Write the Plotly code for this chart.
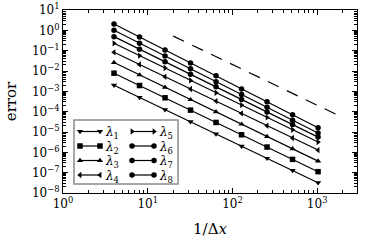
import plotly.graph_objects as go

x_vals = [4, 8, 16, 32, 64, 128, 256, 512, 1024]

series_names = ["λ<sub>1</sub>", "λ<sub>2</sub>", "λ<sub>3</sub>", "λ<sub>4</sub>",
                "λ<sub>5</sub>", "λ<sub>6</sub>", "λ<sub>7</sub>", "λ<sub>8</sub>"]

lam1 = [2.0e-3, 5.0e-4, 1.26e-4, 3.2e-5, 8.0e-6, 2.0e-6, 5.1e-7, 1.29e-7, 3.2e-8]
lam2 = [7.8e-3, 1.93e-3, 4.8e-4, 1.19e-4, 2.95e-5, 7.3e-6, 1.82e-6, 4.5e-7, 1.12e-7]
lam3 = [2.6e-2, 6.4e-3, 1.58e-3, 3.9e-4, 9.8e-5, 2.43e-5, 6.0e-6, 1.5e-6, 3.7e-7]
lam4 = [8.3e-2, 2.09e-2, 5.2e-3, 1.31e-3, 3.3e-4, 8.2e-5, 2.04e-5, 5.1e-6, 1.29e-6]
lam5 = [0.23, 5.7e-2, 1.4e-2, 3.45e-3, 8.5e-4, 2.1e-4, 5.2e-5, 1.29e-5, 3.2e-6]
lam6 = [0.49, 0.118, 2.85e-2, 6.9e-3, 1.66e-3, 4.0e-4, 9.7e-5, 2.33e-5, 5.6e-6]
lam7 = [1.0, 0.234, 5.5e-2, 1.28e-2, 3.0e-3, 6.9e-4, 1.63e-4, 3.8e-5, 8.9e-6]
lam8 = [2.04, 0.47, 0.108, 2.5e-2, 5.8e-3, 1.32e-3, 3.05e-4, 7.1e-5, 1.62e-5]

ref_x = [20, 1800]
ref_y = [0.52, 6.4e-5]

y_tick_vals = [1e-8, 1e-7, 1e-6, 1e-5, 1e-4, 1e-3, 1e-2, 1e-1, 1e0, 1e1]
y_tick_text = ["10<sup>−8</sup>", "10<sup>−7</sup>", "10<sup>−6</sup>", "10<sup>−5</sup>",
               "10<sup>−4</sup>", "10<sup>−3</sup>", "10<sup>−2</sup>", "10<sup>−1</sup>",
               "10<sup>0</sup>", "10<sup>1</sup>"]
x_tick_vals = [1, 10, 100, 1000]
x_tick_text = ["10<sup>0</sup>", "10<sup>1</sup>", "10<sup>2</sup>", "10<sup>3</sup>"]

all_series = [lam1, lam2, lam3, lam4, lam5, lam6, lam7, lam8]
symbols = ["triangle-down", "square", "triangle-up", "triangle-left",
           "triangle-right", "circle", "circle", "circle"]

FONT = "DejaVu Serif"
MSIZE = 5.5

fig = go.Figure()
for name, ys, sym in zip(series_names, all_series, symbols):
    fig.add_trace(go.Scatter(
        x=x_vals, y=ys, name=name, mode="lines+markers", showlegend=False,
        line=dict(color="black", width=1.2),
        marker=dict(symbol=sym, size=MSIZE, color="black"),
    ))

fig.add_trace(go.Scatter(
    x=ref_x, y=ref_y, mode="lines", showlegend=False,
    line=dict(color="black", width=1.2, dash="12px,9px"),
))

minor_y = [m * 10.0 ** k for k in range(-8, 1) for m in range(2, 10)]
minor_x = [m * 10.0 ** k for k in range(0, 4) for m in range(2, 10)]

L, R, T, B = 63, 16, 10, 50
W, H = 373, 243
PW, PH = W - L - R, H - T - B

def pxp(p):
    return (p - L) / PW

def pyp(p):
    return (H - B - p) / PH

# ---- hand-built legend (two columns, four rows) on a hidden pixel-unit overlay axis ----
box = dict(x0=74, x1=178, y0=120, y1=184)
row_y = [131.5, 146, 160.5, 175]
col_key = [(80, 100), (132, 154)]
col_text = [103, 157]

annotations = []
for i, (name, sym) in enumerate(zip(series_names, symbols)):
    c, r = divmod(i, 4)
    k0, k1 = col_key[c]
    yy = row_y[r]
    fig.add_trace(go.Scatter(
        x=[k0, k1], y=[yy, yy], mode="lines+markers", showlegend=False,
        xaxis="x2", yaxis="y2", hoverinfo="skip",
        line=dict(color="black", width=1.2),
        marker=dict(symbol=sym, size=MSIZE, color="black"),
    ))
    annotations.append(dict(
        x=pxp(col_text[c]), y=pyp(yy + 1.5), xref="paper", yref="paper",
        text=name.replace("λ", "<i>λ</i>"),
        showarrow=False, xanchor="left", yanchor="middle",
        font=dict(family=FONT, size=12, color="black"),
    ))

fig.update_layout(
    width=W, height=H,
    margin=dict(l=L, r=R, t=T, b=B),
    paper_bgcolor="white", plot_bgcolor="white",
    font=dict(family=FONT, size=12, color="black"),
    showlegend=False,
    xaxis=dict(
        type="log", range=[0, 3.47], automargin=False,
        tickmode="array", tickvals=x_tick_vals, ticktext=x_tick_text,
        ticks="inside", ticklen=5, tickcolor="black", tickwidth=1,
        showline=True, linecolor="black", linewidth=1, mirror="allticks",
        showgrid=False, zeroline=False,
        minor=dict(tickmode="array", tickvals=minor_x, ticks="inside",
                   ticklen=3, tickcolor="black", showgrid=False),
        title=dict(text="1/Δ<i>x</i>", font=dict(size=15), standoff=13),
        tickfont=dict(size=12),
    ),
    yaxis=dict(
        type="log", range=[-8, 1], automargin=False,
        tickmode="array", tickvals=y_tick_vals, ticktext=y_tick_text,
        ticks="inside", ticklen=5, tickcolor="black", tickwidth=1,
        showline=True, linecolor="black", linewidth=1, mirror="allticks",
        showgrid=False, zeroline=False,
        minor=dict(tickmode="array", tickvals=minor_y, ticks="inside",
                   ticklen=3, tickcolor="black", showgrid=False),
        title=dict(text="error", font=dict(size=15), standoff=11),
        tickfont=dict(size=12),
    ),
    xaxis2=dict(overlaying="x", range=[L, W - R], visible=False, fixedrange=True),
    yaxis2=dict(overlaying="y", range=[H - B, T], visible=False, fixedrange=True),
    shapes=[dict(type="rect", xref="paper", yref="paper",
                 x0=pxp(box["x0"]), x1=pxp(box["x1"]),
                 y0=pyp(box["y1"]), y1=pyp(box["y0"]),
                 line=dict(color="#8a8a8a", width=1.5),
                 fillcolor="white", layer="below")],
    annotations=annotations,
)

fig.write_html("out.html",
               config={"displayModeBar": False},
               post_script="document.body.style.margin='0';document.body.style.padding='0';")
